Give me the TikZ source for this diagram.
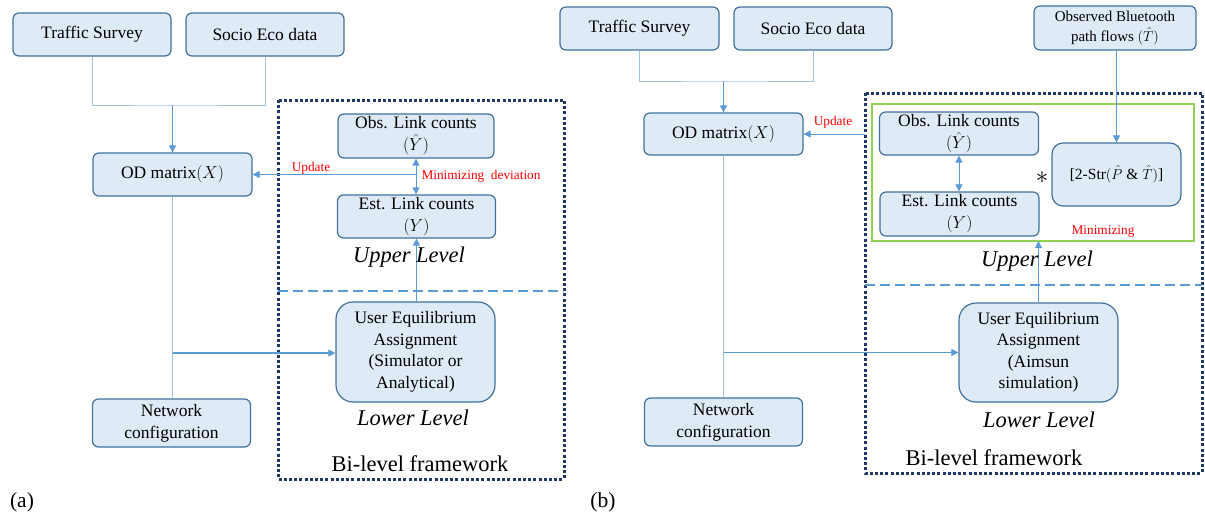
\documentclass[tikz,border=0pt]{standalone}
\usepackage{fontspec}
\setmainfont{Liberation Serif}
\usetikzlibrary{arrows.meta}
\definecolor{boxfill}{HTML}{DEEBF7}
\definecolor{boxdraw}{HTML}{41719C}
\definecolor{linelight}{HTML}{9DC3E6}
\definecolor{linemid}{HTML}{5B9BD5}
\definecolor{navyc}{HTML}{1F3864}
\definecolor{grnc}{HTML}{92D050}
\definecolor{redc}{HTML}{FF0000}
\begin{document}
\begin{tikzpicture}[x=1pt,y=-1pt,
  box/.style={draw=boxdraw,fill=boxfill,line width=1.2pt,rounded corners=6pt,inner sep=0pt,align=center,
    font=\fontsize{17.5}{22}\selectfont},
  bigbox/.style={box,rounded corners=17pt,font=\fontsize{17.5}{21.5}\selectfont},
  thinln/.style={draw=linelight,line width=1pt},
  arr/.style={draw=linemid,line width=1.1pt,-{Triangle[length=7pt,width=7pt]}},
  dblarr/.style={draw=linemid,line width=1.1pt,{Triangle[length=7pt,width=7pt]}-{Triangle[length=7pt,width=7pt]}},
  redlbl/.style={text=redc,inner sep=0pt,font=\fontsize{13.3}{15}\selectfont},
  lvl/.style={inner sep=0pt,font=\fontsize{22.5}{27}\selectfont\itshape},
  bil/.style={inner sep=0pt,font=\fontsize{22.5}{27}\selectfont},
  dotframe/.style={draw=navyc,line width=3pt,dash pattern=on 3pt off 2.2pt},
  dashsep/.style={draw=linemid,line width=2.2pt,dash pattern=on 10pt off 5pt},
  grnframe/.style={draw=grnc,line width=1.6pt}
]
\useasboundingbox (0,0) rectangle (1205,514);

%%%%%%%%%%%%%%%% panel (a)
\draw[dotframe] (278,100) rectangle (564,479);
\draw[dashsep] (278,291) -- (564,291);

\node[box,minimum width=158pt,minimum height=43pt] (tsa) at (92,34.5) {Traffic Survey};
\node[box,minimum width=158pt,minimum height=43pt] (sea) at (265,34.5) {Socio Eco data};
\node[box,minimum width=159pt,minimum height=43pt] (oda) at (172.5,174.5) {OD matrix$(X)$};
\node[box,minimum width=156pt,minimum height=44pt] (obsa) at (416,136) {Obs. Link counts\\$(\hat{Y})$};
\node[box,minimum width=158pt,minimum height=43pt] (esta) at (416.5,216.5) {Est. Link counts\\$(Y)$};
\node[bigbox,minimum width=159pt,minimum height=100pt] (uea) at (415.5,352) {User Equilibrium\\Assignment\\(Simulator or\\Analytical)};
\node[box,minimum width=158pt,minimum height=48pt] (neta) at (171.5,423) {Network\\configuration};

\coordinate (ja) at (172.5,105);
\draw[thinln] (tsa.south) |- (ja) -| (sea.south);
\draw[arr] (ja) -- (oda.north);
\coordinate (ua) at (416,174.5);
\draw[arr,line width=0.9pt] (ua) -- (oda.east);
\draw[dblarr,line width=0.9pt] (obsa.south) -- (obsa.south |- esta.north);
\draw[arr,line width=0.9pt] (uea.north -| esta.south) -- (esta.south);
\draw[thinln] (oda.south) -- (oda.south |- neta.north);
\coordinate (ha) at (172.5,353);
\draw[arr] (ha) -- (ha -| uea.west);

\node[redlbl] (upda) at (311,168) {Update};
\node[redlbl] (mina) at (481,176) {Minimizing\ \ deviation};
\node[lvl] (uppa) at (409,257) {Upper Level};
\node[lvl] (lowa) at (413,418) {Lower Level};
\node[bil] (bia) at (420,464) {Bi-level framework};
\node[bil,font=\fontsize{21.5}{26}\selectfont] (laba) at (22,502) {(a)};

%%%%%%%%%%%%%%%% panel (b)
\draw[dotframe] (865,93) rectangle (1202,473);
\draw[grnframe] (872,104) rectangle (1194,241);
\draw[dashsep] (865,285) -- (1202,285);

\node[box,minimum width=159pt,minimum height=43pt] (tsb) at (639.5,28.5) {Traffic Survey};
\node[box,minimum width=158pt,minimum height=43pt] (seb) at (813,28.5) {Socio Eco data};
\node[box,minimum width=159pt,minimum height=42pt] (odb) at (723.5,134) {OD matrix$(X)$};
\node[box,minimum width=162pt,minimum height=44pt,font=\fontsize{15}{19.5}\selectfont] (btb) at (1115,28) {Observed Bluetooth\\path flows $(\hat{T})$};
\node[box,minimum width=159pt,minimum height=43pt] (obsb) at (959,133.5) {Obs. Link counts\\$(\hat{Y})$};
\node[box,minimum width=159pt,minimum height=44pt] (estb) at (959.5,214) {Est. Link counts\\$(Y)$};
\node[box,rounded corners=11pt,minimum width=129pt,minimum height=63pt,font=\fontsize{15.5}{19}\selectfont] (strb) at (1116.5,174.5) {[2-Str$(\hat{P}$~\&~$\hat{T})$]};
\node[bigbox,minimum width=159pt,minimum height=99pt] (ueb) at (1038.5,352.5) {User Equilibrium\\Assignment\\(Aimsun\\simulation)};
\node[box,minimum width=158pt,minimum height=48pt] (netb) at (723.5,422) {Network\\configuration};

\coordinate (jb) at (723.5,81);
\draw[thinln] (tsb.south) |- (jb) -| (seb.south);
\draw[arr] (jb) -- (odb.north);
\coordinate (ub) at (865,134);
\draw[arr,line width=0.9pt] (ub) -- (odb.east);
\draw[arr,line width=0.9pt] (btb.south -| strb.north) -- (strb.north);
\draw[dblarr,line width=0.9pt] (obsb.south) -- (obsb.south |- estb.north);
\coordinate (gb) at (1038.5,241);
\draw[arr,line width=0.9pt] (ueb.north) -- (gb);
\draw[thinln] (odb.south) -- (odb.south |- netb.north);
\coordinate (hb) at (723.5,352.5);
\draw[arr] (hb) -- (hb -| ueb.west);

\node[redlbl] (updb) at (833,122) {Update};
\node[redlbl] (minb) at (1103,232) {Minimizing};
\node[inner sep=0pt,font=\fontsize{24}{28}\selectfont] (astb) at (1042,178) {$\ast$};
\node[lvl] (uppb) at (1037,261) {Upper Level};
\node[lvl] (lowb) at (1039,420) {Lower Level};
\node[bil] (bib) at (994,458) {Bi-level framework};
\node[bil,font=\fontsize{21.5}{26}\selectfont] (labb) at (603,502) {(b)};
\end{tikzpicture}
\end{document}
